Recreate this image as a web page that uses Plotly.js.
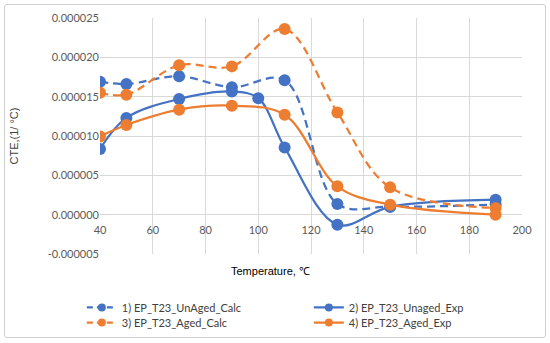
<!DOCTYPE html>
<html>
<head>
<meta charset="utf-8">
<script src="https://cdn.plot.ly/plotly-3.0.1.min.js"></script>
<style>
  html, body { margin: 0; padding: 0; background: #fff; }
  #wrap { position: relative; width: 550px; height: 343px; }
  #chart { width: 550px; height: 343px; }
  #frame { position: absolute; left: 4px; top: 4px; width: 540px; height: 332px;
           border: 1px solid #d0d0d0; border-radius: 3px; pointer-events: none; }
</style>
</head>
<body>
<div id="wrap"><div id="chart"></div><div id="frame"></div></div>
<script>
// Data (CTE values in 1/°C)
const tempCalc = [40, 50, 70, 90, 110, 130, 150, 190];
const unagedCalc = [16.9e-6, 16.6e-6, 17.6e-6, 16.2e-6, 17.1e-6, 1.36e-6, 1.0e-6, 1.3e-6];

const tempUnagedExp = [40, 50, 70, 90, 100, 110, 130, 150, 190];
const unagedExp = [8.35e-6, 12.3e-6, 14.7e-6, 15.65e-6, 14.8e-6, 8.55e-6, -1.27e-6, 1.0e-6, 1.9e-6];

const tempAgedCalc = [40, 50, 70, 90, 110, 130, 150, 190];
const agedCalc = [15.5e-6, 15.25e-6, 19.0e-6, 18.85e-6, 23.6e-6, 13.0e-6, 3.47e-6, 0.85e-6];

const tempAgedExp = [40, 50, 70, 90, 110, 130, 150, 190];
const agedExp = [9.95e-6, 11.4e-6, 13.35e-6, 13.85e-6, 12.7e-6, 3.6e-6, 1.27e-6, 0.0];

const seriesNames = ["1) EP_T23_UnAged_Calc", "2) EP_T23_Unaged_Exp", "3) EP_T23_Aged_Calc", "4) EP_T23_Aged_Exp"];

const yTickVals = [-5e-6, 0, 5e-6, 10e-6, 15e-6, 20e-6, 25e-6];
const yTickText = ["-0.000005", "0.000000", "0.000005", "0.000010", "0.000015", "0.000020", "0.000025"];
const xTickVals = [40, 60, 80, 100, 120, 140, 160, 180, 200];

const BLUE = "#4472C4", ORANGE = "#ED7D31";
const DASH = "8px,5px";

function trace(x, y, name, color, dash) {
  return {
    x: x, y: y, name: name, type: "scatter", mode: "lines+markers", showlegend: false,
    line: { color: color, width: 2.25, shape: "spline", smoothing: 1, dash: dash },
    marker: { color: color, size: 12 }
  };
}
// legend-only entries (smaller symbols, like the reference legend)
function legendEntry(name, color, dash, legendId) {
  return {
    x: [null], y: [null], name: name, type: "scatter", mode: "lines+markers",
    legend: legendId, showlegend: true,
    line: { color: color, width: 2.25, dash: dash },
    marker: { color: color, size: 8 }
  };
}

const data = [
  trace(tempCalc, unagedCalc, seriesNames[0], BLUE, DASH),
  trace(tempUnagedExp, unagedExp, seriesNames[1], BLUE, "solid"),
  trace(tempAgedCalc, agedCalc, seriesNames[2], ORANGE, DASH),
  trace(tempAgedExp, agedExp, seriesNames[3], ORANGE, "solid"),
  legendEntry(seriesNames[0], BLUE, "6px,4px", "legend"),
  legendEntry(seriesNames[1], BLUE, "solid", "legend"),
  legendEntry(seriesNames[2], ORANGE, "6px,4px", "legend2"),
  legendEntry(seriesNames[3], ORANGE, "solid", "legend2")
];

const tickFont = { family: "Lato, 'Noto Sans', sans-serif", size: 11, color: "#595959" };
const legendFont = { family: "Lato, 'Noto Sans', sans-serif", size: 11, color: "#404040" };

const legendBase = {
  orientation: "h", xanchor: "left", yanchor: "top",
  entrywidth: 182, entrywidthmode: "pixels",
  font: legendFont, bgcolor: "rgba(0,0,0,0)"
};

const layout = {
  width: 550, height: 343,
  margin: { l: 100, r: 28, t: 18, b: 89, autoexpand: false },
  paper_bgcolor: "#fff", plot_bgcolor: "#fff",
  showlegend: true,
  xaxis: {
    range: [40, 200], tickvals: xTickVals, ticktext: xTickVals.map(String),
    anchor: "free", position: 1/6, ticklabelstandoff: 7,
    showgrid: true, gridcolor: "#d9d9d9", gridwidth: 1,
    zeroline: false, showline: false, ticks: "",
    tickfont: tickFont, fixedrange: true
  },
  yaxis: {
    range: [-5e-6, 25e-6], tickvals: yTickVals, ticktext: yTickText,
    showgrid: true, gridcolor: "#d9d9d9", gridwidth: 1,
    zeroline: true, zerolinecolor: "#d9d9d9", zerolinewidth: 1,
    showline: false, ticks: "", tickfont: tickFont,
    title: { text: "CTE,(1/ °C)", font: { family: "'Liberation Sans', Arial, sans-serif", size: 11, color: "#404040" }, standoff: 26 },
    fixedrange: true
  },
  annotations: [{
    xref: "paper", yref: "paper", x: (270 - 100) / 422, y: -(271 - 254) / 236,
    xanchor: "center", yanchor: "middle", showarrow: false,
    text: "Temperature, ℃",
    font: { family: "'Liberation Sans', Arial, sans-serif", size: 11, color: "#000" }
  }],
  legend: Object.assign({}, legendBase, { x: -0.043, y: -0.165 }),
  legend2: Object.assign({}, legendBase, { x: -0.043, y: -0.229 })
};

Plotly.newPlot("chart", data, layout, { displayModeBar: false, staticPlot: true });
</script>
</body>
</html>
